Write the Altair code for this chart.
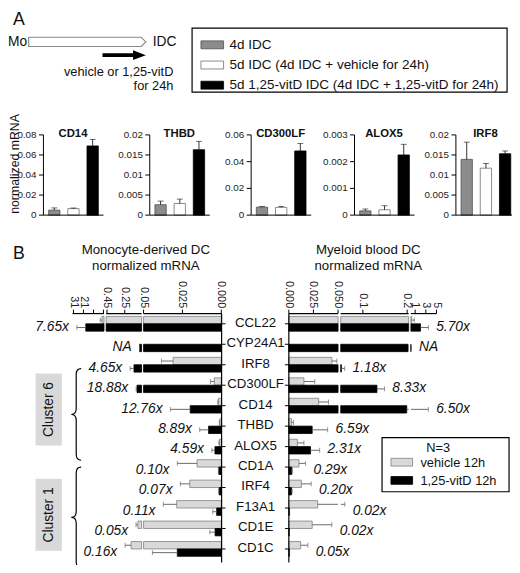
import altair as alt
import pandas as pd

FONT = "Liberation Sans"

# ===================== DATA =====================
# ---- Panel A : IDC time course ----
cond_names = ["4d IDC", "5d IDC (4d IDC + vehicle for 24h)",
              "5d 1,25-vitD IDC (4d IDC + 1,25-vitD for 24h)"]
genes_A = ["CD14", "THBD", "CD300LF", "ALOX5", "IRF8"]
ymax_A = [0.08, 0.02, 0.06, 0.003, 0.02]
yticks_A = [[0, 0.02, 0.04, 0.06, 0.08],
            [0, 0.005, 0.01, 0.015, 0.02],
            [0, 0.02, 0.04, 0.06],
            [0, 0.001, 0.002, 0.003],
            [0, 0.005, 0.01, 0.015, 0.02]]
ytick_labels_A = [["0", "0.02", "0.04", "0.06", "0.08"],
                  ["0", "0.005", "0.01", "0.015", "0.02"],
                  ["0", "0.02", "0.04", "0.06"],
                  ["0", "0.001", "0.002", "0.003"],
                  ["0", "0.005", "0.01", "0.015", "0.02"]]
mean_4d = [0.005, 0.0026, 0.006, 0.00016, 0.0139]
mean_5d_veh = [0.0065, 0.0029, 0.0058, 0.0002, 0.0117]
mean_5d_vitd = [0.069, 0.0163, 0.048, 0.00225, 0.0153]
err_4d = [0.0022, 0.0009, 0.0004, 0.00007, 0.0043]
err_5d_veh = [0.0006, 0.0011, 0.0007, 0.00015, 0.0012]
err_5d_vitd = [0.0065, 0.0021, 0.0055, 0.0004, 0.0007]

# ---- Panel B : 12h vehicle vs 1,25-vitD ----
genes_B = ["CCL22", "CYP24A1", "IRF8", "CD300LF", "CD14", "THBD", "ALOX5",
           "CD1A", "IRF4", "F13A1", "CD1E", "CD1C"]
series_names = ["vehicle 12h", "1,25-vitD 12h"]

modc_veh = [2.45, 0.0, 0.031, 0.0045, 0.0018, 0.001, 0.0012, 0.0156, 0.0203, 0.0287, 0.101, 0.179]
modc_veh_err = [1.75, 0.0, 0.0075, 0.0025, 0.0005, 0.0003, 0.0004, 0.0127, 0.006, 0.0086, 0.022, 0.067]
modc_vitd = [18.7, 0.082, 0.146, 0.112, 0.020, 0.0082, 0.0041, 0.0016, 0.0014, 0.003, 0.004, 0.0283]
modc_vitd_err = [8.9, 0.002, 0.044, 0.01, 0.0127, 0.0057, 0.002, 0.0003, 0.0003, 0.0025, 0.0034, 0.016]
modc_fold = ["7.65x", "NA", "4.65x", "18.88x", "12.76x", "8.89x", "4.59x",
             "0.10x", "0.07x", "0.11x", "0.05x", "0.16x"]

mdc_veh = [0.35, 0.0, 0.0437, 0.0153, 0.0303, 0.0027, 0.0087, 0.0103, 0.0127, 0.0293, 0.0237, 0.012]
mdc_veh_err = [0.5, 0.0, 0.005, 0.011, 0.010, 0.002, 0.0066, 0.0067, 0.010, 0.030, 0.020, 0.0073]
mdc_vitd = [2.0, 0.202, 0.0515, 0.1318, 0.199, 0.0237, 0.022, 0.003, 0.0027, 0.0006, 0.0005, 0.0006]
mdc_vitd_err = [1.47, 0.05, 0.0075, 0.017, 3.27, 0.0157, 0.0093, 0.0005, 0.0007, 0.0002, 0.0002, 0.0002]
mdc_fold = ["5.70x", "NA", "1.18x", "8.33x", "6.50x", "6.59x", "2.31x",
            "0.29x", "0.20x", "0.02x", "0.02x", "0.05x"]

# broken axes: value domains of each segment, ticks and tick labels
left_seg_domains = [[0, 0.05], [0.06, 0.46], [0.5, 32]]
left_seg_ticks = [[0, 0.025, 0.05], [0.25, 0.45], [1, 11, 21, 31]]
left_seg_labels = [["0.000", "0.025", "0.05"], ["0.25", "0.45"], ["", "", "21", "31"]]
right_seg_domains = [[0, 0.05], [0.05, 0.2033], [0.2, 5]]
right_seg_ticks = [[0, 0.025, 0.05], [0.1, 0.2], [1, 3, 5]]
right_seg_labels = [["0.000", "0.025", "0.050"], ["0.1", "0.2"], ["1", "3", "5"]]

cluster_names = ["Cluster 6", "Cluster 1"]

# ===================== LAYOUT / STYLE =====================
ORIGIN = 8


def px(v):
    return v - ORIGIN


def py(v):
    return v - ORIGIN


fill_A = ["#8c8c8c", "#ffffff", "#000000"]
edge_A = ["#505050", "#6e6e6e", "#000000"]
fill_B = ["#d9d9d9", "#000000"]
edge_B = ["#808080", "#000000"]
ERR_B = "#6a6a6a"
TXT = "#111111"

one = pd.DataFrame({"k": [0]})
layers = []


def txt(x, y, s, size=13, **kw):
    kw.setdefault("color", TXT)
    return alt.Chart(one).mark_text(font=FONT, fontSize=size, **kw).encode(
        x=alt.value(px(x)), y=alt.value(py(y)), text=alt.value(s))


def box(x0, x1, y0, y1, fill, stroke=None, sw=1.0):
    kw = dict(fill=fill)
    if stroke:
        kw.update(stroke=stroke, strokeWidth=sw)
    return alt.Chart(one).mark_rect(**kw).encode(
        x=alt.value(px(x0)), x2=alt.value(px(x1)), y=alt.value(py(y0)), y2=alt.value(py(y1)))


def symbol(cx, cy, path, extent, fill=None, stroke=None, sw=1.0):
    kw = dict(shape=path, size=extent ** 2, opacity=1, strokeWidth=sw)
    if fill:
        kw.update(filled=True, fill=fill)
    else:
        kw.update(filled=False)
    if stroke:
        kw.update(stroke=stroke)
    return alt.Chart(one).mark_point(**kw).encode(x=alt.value(px(cx)), y=alt.value(py(cy)))


# ---------- header of A ----------
layers.append(txt(13, 21, "A", size=18, align="left", baseline="alphabetic"))
layers.append(txt(8, 38, "Mo", size=14, align="left", baseline="middle"))
layers.append(symbol(88.5, 38, "M-1,-0.079L0.921,-0.079L1,0L0.921,0.079L-1,0.079Z", 119,
                     fill="white", stroke="#8a8a8a", sw=1.2))
layers.append(txt(155, 38, "IDC", size=14, align="left", baseline="middle"))
layers.append(symbol(126, 51.5, "M-1,-0.09L0.41,-0.09L0.41,-0.227L1,0L0.41,0.227L0.41,0.09L-1,0.09Z", 44,
                     fill="black"))
layers.append(txt(176, 69, "vehicle or 1,25-vitD", size=13, align="right", baseline="middle"))
layers.append(txt(176, 83, "for 24h", size=13, align="right", baseline="middle"))

# legend of A
SW = "M-1,-0.35H1V0.35H-1Z"
layers.append(box(195, 515, 24, 89, "white", "black", 1.2))
dfLA = pd.DataFrame({"cond": cond_names})
legA_y = alt.Y("cond:N", scale=alt.Scale(type="point", domain=cond_names,
                                         range=[py(41), py(82)], padding=0), axis=None)
colA = alt.Color("cond:N", scale=alt.Scale(domain=cond_names, range=fill_A), legend=None)
strA = alt.Stroke("cond:N", scale=alt.Scale(domain=cond_names, range=edge_A), legend=None)
layers.append(alt.Chart(dfLA).mark_point(shape=SW, size=23 ** 2, filled=True, opacity=1, strokeWidth=0.8)
              .encode(x=alt.value(px(215.5)), y=legA_y, color=colA, stroke=strA))
layers.append(alt.Chart(dfLA).mark_text(align="left", baseline="middle", font=FONT, fontSize=13.7, color=TXT)
              .encode(x=alt.value(px(233)), y=legA_y, text="cond:N"))

# ---------- small bar charts of A ----------
axis_x_A = [44, 152, 255, 360, 463]
PW = 61
Y0, Y1 = 214, 132.5
layers.append(txt(15.5, 162, "normalized mRNA", size=12.5, angle=270, align="center", baseline="middle"))

means_A = [mean_4d, mean_5d_veh, mean_5d_vitd]
errs_A = [err_4d, err_5d_veh, err_5d_vitd]
for i, g in enumerate(genes_A):
    a = axis_x_A[i]
    df = pd.DataFrame({"cond": cond_names,
                       "val": [m[i] for m in means_A],
                       "err": [e[i] for e in errs_A]})
    df["top"] = df["val"] + df["err"]
    df["base"] = 0.0
    xs = alt.Scale(type="band", domain=cond_names, range=[px(a), px(a + PW)],
                   paddingInner=0.41, paddingOuter=0.27)
    ys = alt.Scale(domain=[0, ymax_A[i]], range=[py(Y0), py(Y1)])
    X = alt.X("cond:N", scale=xs, axis=None)
    layers.append(alt.Chart(df).mark_bar(strokeWidth=0.8).encode(
        x=X, y=alt.Y("val:Q", scale=ys, axis=None), y2="base:Q", color=colA, stroke=strA))
    layers.append(alt.Chart(df).mark_rule(color="#000", strokeWidth=0.8).encode(
        x=X, y=alt.Y("val:Q", scale=ys, axis=None), y2="top:Q"))
    layers.append(alt.Chart(df).mark_tick(color="#000", orient="horizontal", size=6, thickness=0.8).encode(
        x=X, y=alt.Y("top:Q", scale=ys, axis=None)))
    # axes
    dax = pd.DataFrame({"lo": [0.0], "hi": [ymax_A[i]]})
    layers.append(alt.Chart(dax).mark_rule(color="#000", strokeWidth=1).encode(
        x=alt.value(px(a)), y=alt.Y("lo:Q", scale=ys, axis=None), y2="hi:Q"))
    layers.append(alt.Chart(dax).mark_rule(color="#000", strokeWidth=1).encode(
        x=alt.value(px(a)), x2=alt.value(px(a + PW)), y=alt.Y("lo:Q", scale=ys, axis=None)))
    dt = pd.DataFrame({"t": yticks_A[i], "lab": ytick_labels_A[i]})
    layers.append(alt.Chart(dt).mark_rule(color="#000", strokeWidth=1).encode(
        y=alt.Y("t:Q", scale=ys, axis=None), x=alt.value(px(a - 4.5)), x2=alt.value(px(a))))
    layers.append(alt.Chart(dt).mark_text(align="right", baseline="middle", font=FONT, fontSize=10,
                                          color="#222").encode(
        y=alt.Y("t:Q", scale=ys, axis=None), x=alt.value(px(a - 7)), text="lab:N"))
    layers.append(txt(a + 30, 132, g, size=11.5, fontWeight="bold", align="center", baseline="middle"))

# ---------- Panel B ----------
layers.append(txt(13, 259, "B", size=18, align="left", baseline="alphabetic"))
layers.append(txt(148, 249, "Monocyte-derived DC", size=13.5, align="center", baseline="middle"))
layers.append(txt(148, 266, "normalized mRNA", size=13.5, align="center", baseline="middle"))
layers.append(txt(374, 249, "Myeloid blood DC", size=13.5, align="center", baseline="middle"))
layers.append(txt(374, 266, "normalized mRNA", size=13.5, align="center", baseline="middle"))

yB = alt.Scale(type="band", domain=genes_B, range=[py(314), py(563.5)], paddingInner=0, paddingOuter=0)
Ygene = alt.Y("gene:N", scale=yB, axis=None)
BAR_H = 7.5
colB = alt.Color("series:N", scale=alt.Scale(domain=series_names, range=fill_B), legend=None)
strB = alt.Stroke("series:N", scale=alt.Scale(domain=series_names, range=edge_B), legend=None)

left_seg_px = [(224.7, 145.7), (143.7, 107.7), (105.5, 73.5)]
right_seg_px = [(293.3, 343.3), (346.0, 415.0), (417.3, 443.3)]


def side(veh, veh_err, vit, vit_err, fold, domains, segpx, ticks, labels, left):
    dfs = []
    for s, (vals, errs) in enumerate([(veh, veh_err), (vit, vit_err)]):
        d = pd.DataFrame({"gene": genes_B, "val": vals, "err": errs, "series": series_names[s]})
        d["top"] = d["val"] + d["err"]
        d["base"] = 0.0
        dfs.append(d)
    anchor = [max(a1 + b1, c1 + d1) for a1, b1, c1, d1 in zip(veh, veh_err, vit, vit_err)]

    def seg_of(v):
        for k, (lo, hi) in enumerate(domains):
            if v <= hi:
                return k
        return len(domains) - 1

    dfold = pd.DataFrame({"gene": genes_B, "fold": fold, "anchor": anchor,
                          "seg": [seg_of(v) for v in anchor]})
    for k, dom in enumerate(domains):
        d0, d1 = dom
        xs = alt.Scale(domain=dom, range=[px(segpx[k][0]), px(segpx[k][1])], clamp=True)
        for s, d in enumerate(dfs):
            off = -BAR_H / 2 if s == 0 else BAR_H / 2
            layers.append(alt.Chart(d).transform_filter(f"datum.val > {d0}").mark_bar(
                height=BAR_H, yOffset=off, strokeWidth=0.8).encode(
                x=alt.X("base:Q", scale=xs, axis=None), x2="val:Q", y=Ygene, color=colB, stroke=strB))
            layers.append(alt.Chart(d).transform_filter(
                f"datum.err > 0 && datum.top > {d0} && datum.val < {d1}").mark_rule(
                yOffset=off, color=ERR_B, strokeWidth=1).encode(
                x=alt.X("val:Q", scale=xs, axis=None), x2="top:Q", y=Ygene))
            layers.append(alt.Chart(d).transform_filter(
                f"datum.err > 0 && datum.top >= {d0} && datum.top <= {d1}").mark_tick(
                orient="vertical", size=5, thickness=1, yOffset=off, color=ERR_B).encode(
                x=alt.X("top:Q", scale=xs, axis=None), y=Ygene))
        # axis segment
        dax = pd.DataFrame({"lo": [d0], "hi": [d1]})
        layers.append(alt.Chart(dax).mark_rule(color="#000", strokeWidth=1.2).encode(
            x=alt.X("lo:Q", scale=xs, axis=None), x2="hi:Q", y=alt.value(py(314))))
        dt = pd.DataFrame({"t": ticks[k], "lab": labels[k]})
        layers.append(alt.Chart(dt).mark_rule(color="#000", strokeWidth=1).encode(
            x=alt.X("t:Q", scale=xs, axis=None), y=alt.value(py(310)), y2=alt.value(py(314))))
        layers.append(alt.Chart(dt).mark_text(angle=90, align="right", baseline="middle", font=FONT,
                                              fontSize=11, color="#222").encode(
            x=alt.X("t:Q", scale=xs, axis=None), y=alt.value(py(308.5)), text="lab:N"))
        # fold-change labels
        layers.append(alt.Chart(dfold).transform_filter(f"datum.seg == {k}").mark_text(
            align="right" if left else "left", dx=-8 if left else 8, dy=3, baseline="middle",
            font=FONT, fontSize=14, fontStyle="italic", color=TXT).encode(
            x=alt.X("anchor:Q", scale=xs, axis=None), y=Ygene, text="fold:N"))


side(modc_veh, modc_veh_err, modc_vitd, modc_vitd_err, modc_fold,
     left_seg_domains, left_seg_px, left_seg_ticks, left_seg_labels, True)
side(mdc_veh, mdc_veh_err, mdc_vitd, mdc_vitd_err, mdc_fold,
     right_seg_domains, right_seg_px, right_seg_ticks, right_seg_labels, False)

# value axes (vertical) and gene labels
dg = pd.DataFrame({"gene": genes_B})
for xline, x2 in [(225, 229), (293.3, 289.3)]:
    layers.append(alt.Chart(one).mark_rule(color="#000", strokeWidth=1.2).encode(
        x=alt.value(px(xline)), y=alt.value(py(314)), y2=alt.value(py(567))))
    layers.append(alt.Chart(dg).mark_rule(color="#000", strokeWidth=1).encode(
        x=alt.value(px(xline)), x2=alt.value(px(x2)), y=Ygene))
layers.append(alt.Chart(dg).mark_text(align="center", baseline="middle", dy=-1, font=FONT, fontSize=13.5,
                                      color=TXT).encode(x=alt.value(px(259.5)), y=Ygene, text="gene:N"))

# clusters
layers.append(box(36, 62.7, 375, 448, "#d9d9d9"))
layers.append(box(36, 62.7, 481.7, 555, "#d9d9d9"))
layers.append(txt(49.5, 411.5, cluster_names[0], size=14, angle=270, align="center", baseline="middle"))
layers.append(txt(49.5, 518.5, cluster_names[1], size=14, angle=270, align="center", baseline="middle"))


def brace_path(h, w_end=5.0, w_tip=5.0, r=6.0):
    s = h / 2.0
    pts = dict(e=w_end / s, t=w_tip / s, r=r / s)
    return ("M{e:.4f},-1Q0,-1 0,{a:.4f}L0,{b:.4f}Q0,0 -{t:.4f},0Q0,0 0,{r:.4f}"
            "L0,{c:.4f}Q0,1 {e:.4f},1").format(a=-1 + pts["r"], b=-pts["r"], c=1 - pts["r"], **pts)


layers.append(symbol(77.3, 416.5, brace_path(93), 93, stroke="black", sw=1.2))
layers.append(symbol(77.3, 521, brace_path(102), 102, stroke="black", sw=1.2))

# legend of B
layers.append(box(388, 517, 440, 495, "white", "black", 1.2))
layers.append(txt(445, 451, "N=3", size=13, align="center", baseline="middle"))
dfLB = pd.DataFrame({"series": series_names})
legB_y = alt.Y("series:N", scale=alt.Scale(type="point", domain=series_names,
                                           range=[py(465), py(483.5)], padding=0), axis=None)
layers.append(alt.Chart(dfLB).mark_point(shape="M-1,-0.36H1V0.36H-1Z", size=22 ** 2, filled=True, opacity=1,
                                         strokeWidth=0.8).encode(
    x=alt.value(px(408)), y=legB_y, color=colB, stroke=strB))
layers.append(alt.Chart(dfLB).mark_text(align="left", baseline="middle", dy=1, font=FONT, fontSize=13,
                                        color=TXT).encode(x=alt.value(px(427)), y=legB_y, text="series:N"))

chart = alt.layer(*layers).resolve_scale(
    x="independent", y="independent", color="independent", stroke="independent"
).properties(
    width=512, height=557, padding=0, autosize=alt.AutoSizeParams(type="none")
).configure(font=FONT).configure_view(stroke="transparent", strokeWidth=0)

chart.save("out.html", embed_options={"renderer": "svg", "actions": False})
